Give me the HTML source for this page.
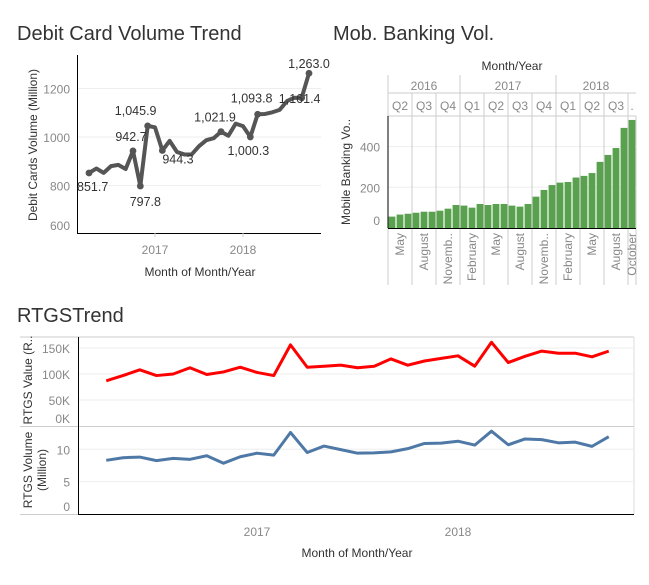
<!DOCTYPE html>
<html><head><meta charset="utf-8"><style>
body{margin:0;background:#fff;font-family:"Liberation Sans",sans-serif;}
svg text{font-family:"Liberation Sans",sans-serif;}
</style></head><body>
<svg width="649" height="580" xmlns="http://www.w3.org/2000/svg">
<text x="17" y="40" font-size="20" fill="#333">Debit Card Volume Trend</text>
<text x="333" y="40" font-size="20" fill="#333">Mob. Banking Vol.</text>
<text x="17" y="322" font-size="20" fill="#333">RTGSTrend</text>
<g id="debit"></g>
<g id="mob"></g>
<g id="rtgs"></g>
</svg>
<script>
const debitVals=[851.7,870,852,880,885,868,942.7,797.8,1045.9,1040,944.3,984,938,928,928,962,987,995,1021.9,1005,1055,1045,1000.3,1093.8,1095,1102,1112,1148,1162,1161.4,1263.0];
const debitTicks=[600,800,1000,1200];
const debitLabels={0:"851.7",6:"942.7",7:"797.8",8:"1,045.9",10:"944.3",18:"1,021.9",22:"1,000.3",23:"1,093.8",29:"1,161.4",30:"1,263.0"};
const yearLabels=["2017","2018"];
const mobVals=[56,66,70,75,80,80,85,95,113,110,100,118,113,118,118,110,105,118,154,187,211,223,226,248,256,270,325,359,393,492,531];
const mobTicks=[0,200,400];
const mobYears=["2016","2017","2018"];
const mobQuarters=["Q2","Q3","Q4","Q1","Q2","Q3","Q4","Q1","Q2","Q3","."];
const mobMonths=["May","August","Novemb..","February","May","August","Novemb..","February","May","August","October"];
const rtgsValue=[87,97,108,97,100,112,99,104,113,103,97,156,113,115,117,112,115,129,117,125,130,135,115,161,122,134,144,140,140,133,144];
const rtgsVolume=[8.3,8.7,8.8,8.25,8.6,8.45,9.0,7.85,8.85,9.4,9.1,12.6,9.5,10.5,9.95,9.4,9.45,9.6,10.1,10.9,10.95,11.25,10.65,12.8,10.7,11.6,11.5,11.0,11.1,10.45,11.95];
const valTicks=[0,50,100,150];
const volTicks=[0,5,10];
const NS="http://www.w3.org/2000/svg";
function mk(p,t,a,txt){const e=document.createElementNS(NS,t);for(const k in a)e.setAttribute(k,a[k]);if(txt!==undefined)e.textContent=txt;p.appendChild(e);return e;}

// Debit
(function(){
const g=document.getElementById('debit');
const xs=i=>155+(i-9)*88/12, ys=v=>137-(v-1000)*48.5/200;
debitTicks.forEach(t=>{const y=ys(t);
if(t>600){const l=mk(g,'line',{x1:78,x2:321,y1:y,y2:y,stroke:'#eee'});}
const tx=mk(g,'text',{x:70,y:Math.min(y+5,230),'text-anchor':'end','font-size':12,fill:'#888'},t);});
mk(g,'line',{x1:77.5,x2:77.5,y1:55,y2:233,stroke:'#000'});
mk(g,'line',{x1:77,x2:321,y1:233.5,y2:233.5,stroke:'#000'});
yearLabels.forEach((y,i)=>{const x=155+i*88;mk(g,'line',{x1:x,x2:x,y1:233,y2:237,stroke:'#ccc'});const t=mk(g,'text',{x:x,y:254,'text-anchor':'middle','font-size':12,fill:'#888'},y);});
const p=mk(g,'polyline',{points:debitVals.map((v,i)=>xs(i)+','+ys(v)).join(' '),fill:'none',stroke:'#555',"stroke-width":4,"stroke-linejoin":"round"});

const off={0:[-12,18,'start'],6:[-2,-10,'middle'],7:[5,20,'middle'],8:[-12,-11,'middle'],10:[0,13,'start'],18:[-6,-10,'middle'],22:[-2,18,'middle'],23:[-6,-12,'middle'],29:[-2,5,'middle'],30:[0,-5,'middle']};
for(const k in debitLabels){const i=+k,o=off[k];
const c=mk(g,'circle',{cx:xs(i),cy:ys(debitVals[i]),r:3.4,fill:'#555'});
const t=mk(g,'text',{x:xs(i)+o[0],y:ys(debitVals[i])+o[1],'text-anchor':o[2],'font-size':12.5,fill:'#333'},debitLabels[k]);}
let t=mk(g,'text',{x:200,y:276,'text-anchor':'middle','font-size':12,fill:'#333'},'Month of Month/Year');
t=mk(g,'text',{transform:'translate(37,145) rotate(-90)','text-anchor':'middle','font-size':12,fill:'#333'},'Debit Cards Volume (Million)');
})();

// Mobile
(function(){
const g=document.getElementById('mob');
const L=388,R=636,bw=(R-L)/31,base=228,ys=v=>base-v*40.7/200;
let t=mk(g,'text',{x:512,y:70,'text-anchor':'middle','font-size':12,fill:'#333'},'Month/Year');
mk(g,'line',{x1:L,x2:R,y1:116,y2:116,stroke:'#ccc'});
mk(g,'line',{x1:L,x2:L,y1:75,y2:285,stroke:'#ccc'});
mk(g,'line',{x1:R,x2:R,y1:116,y2:285,stroke:'#ccc'});
mobTicks.forEach(v=>{const y=ys(v);if(v>0)mk(g,'line',{x1:L,x2:R,y1:y,y2:y,stroke:'#eee'});const tx=mk(g,'text',{x:380,y:v==0?y-3:y+5,'text-anchor':'end','font-size':12,fill:'#888'},v);});
const qStart=[0,3,6,9,12,15,18,21,24,27,30,31];
for(let q=0;q<11;q++){const x0=L+qStart[q]*bw,x1=L+qStart[q+1]*bw;
if(q>0)mk(g,'line',{x1:x0,x2:x0,y1:[3,7].includes(q)?75:93,y2:285,stroke:'#ccc'});
const tx=mk(g,'text',{x:(x0+x1)/2,y:110,'text-anchor':'middle','font-size':12,fill:'#888'},mobQuarters[q]);}
mk(g,'line',{x1:L,x2:R,y1:93,y2:93,stroke:'#ccc'});
const yb=[[0,9],[9,21],[21,31]];
mobYears.forEach((y,i)=>{const x=L+(yb[i][0]+yb[i][1])/2*bw;const tx=mk(g,'text',{x:x,y:90,'text-anchor':'middle','font-size':12,fill:'#888'},y);});
mobVals.forEach((v,i)=>{const r=mk(g,'rect',{x:L+i*bw+0.6,y:ys(v),width:bw-1.2,height:base-ys(v),fill:'#59a14f'});});
mk(g,'line',{x1:L,x2:L,y1:116,y2:228,stroke:'#000'});
mk(g,'line',{x1:L,x2:R,y1:228.5,y2:228.5,stroke:'#000'});
mobMonths.forEach((m,i)=>{const idx=i<10?1+i*3:30;const x=L+(idx+0.5)*bw+4;const tx=mk(g,'text',{transform:`translate(${x},233) rotate(-90)`,'text-anchor':'end','font-size':12,fill:'#888'},m);});
t=mk(g,'text',{transform:'translate(350,172) rotate(-90)','text-anchor':'middle','font-size':12,fill:'#333'},'Mobile Banking Vo..');
})();

// RTGS
(function(){
const g=document.getElementById('rtgs');
const xs=i=>257+(i-9)*201/12;
const yv=v=>426-v*26/50, yo=v=>514-v*6.47;
[337,426.5,514.5].forEach(y=>mk(g,'line',{x1:20,x2:634,y1:y,y2:y,stroke:'#ccc'}));
mk(g,'line',{x1:634,x2:634,y1:337,y2:514,stroke:'#ddd'});
valTicks.forEach(v=>{const y=yv(v);if(v>0)mk(g,'line',{x1:78,x2:634,y1:y,y2:y,stroke:'#eee'});const t=mk(g,'text',{x:70,y:v==0?y-3:y+5,'text-anchor':'end','font-size':12,fill:'#888'},v+'K');});
volTicks.forEach(v=>{const y=yo(v);if(v>0)mk(g,'line',{x1:78,x2:634,y1:y,y2:y,stroke:'#eee'});const t=mk(g,'text',{x:70,y:v==0?y-3:y+5,'text-anchor':'end','font-size':12,fill:'#888'},v);});
mk(g,'line',{x1:78.5,x2:78.5,y1:337,y2:515,stroke:'#000'});
mk(g,'line',{x1:78,x2:634,y1:514.5,y2:514.5,stroke:'#000'});
yearLabels.forEach((y,i)=>{const x=257+i*201;const t=mk(g,'text',{x:x,y:536,'text-anchor':'middle','font-size':12,fill:'#888'},y);});
let p=mk(g,'polyline',{points:rtgsValue.map((v,i)=>xs(i)+','+yv(v)).join(' '),fill:'none',stroke:'#f00','stroke-width':3,'stroke-linejoin':'round'});

p=mk(g,'polyline',{points:rtgsVolume.map((v,i)=>xs(i)+','+yo(v)).join(' '),fill:'none',stroke:'#4e79a7','stroke-width':3,'stroke-linejoin':'round'});

let t=mk(g,'text',{transform:'translate(32,380) rotate(-90)','text-anchor':'middle','font-size':12,fill:'#333'},'RTGS Value (R..');
t=mk(g,'text',{transform:'translate(32,470) rotate(-90)','text-anchor':'middle','font-size':12,fill:'#333'},'RTGS Volume');
t=mk(g,'text',{transform:'translate(46,470) rotate(-90)','text-anchor':'middle','font-size':12,fill:'#333'},'(Million)');
t=mk(g,'text',{x:357,y:557,'text-anchor':'middle','font-size':12,fill:'#333'},'Month of Month/Year');
})();
</script>
</body></html>
